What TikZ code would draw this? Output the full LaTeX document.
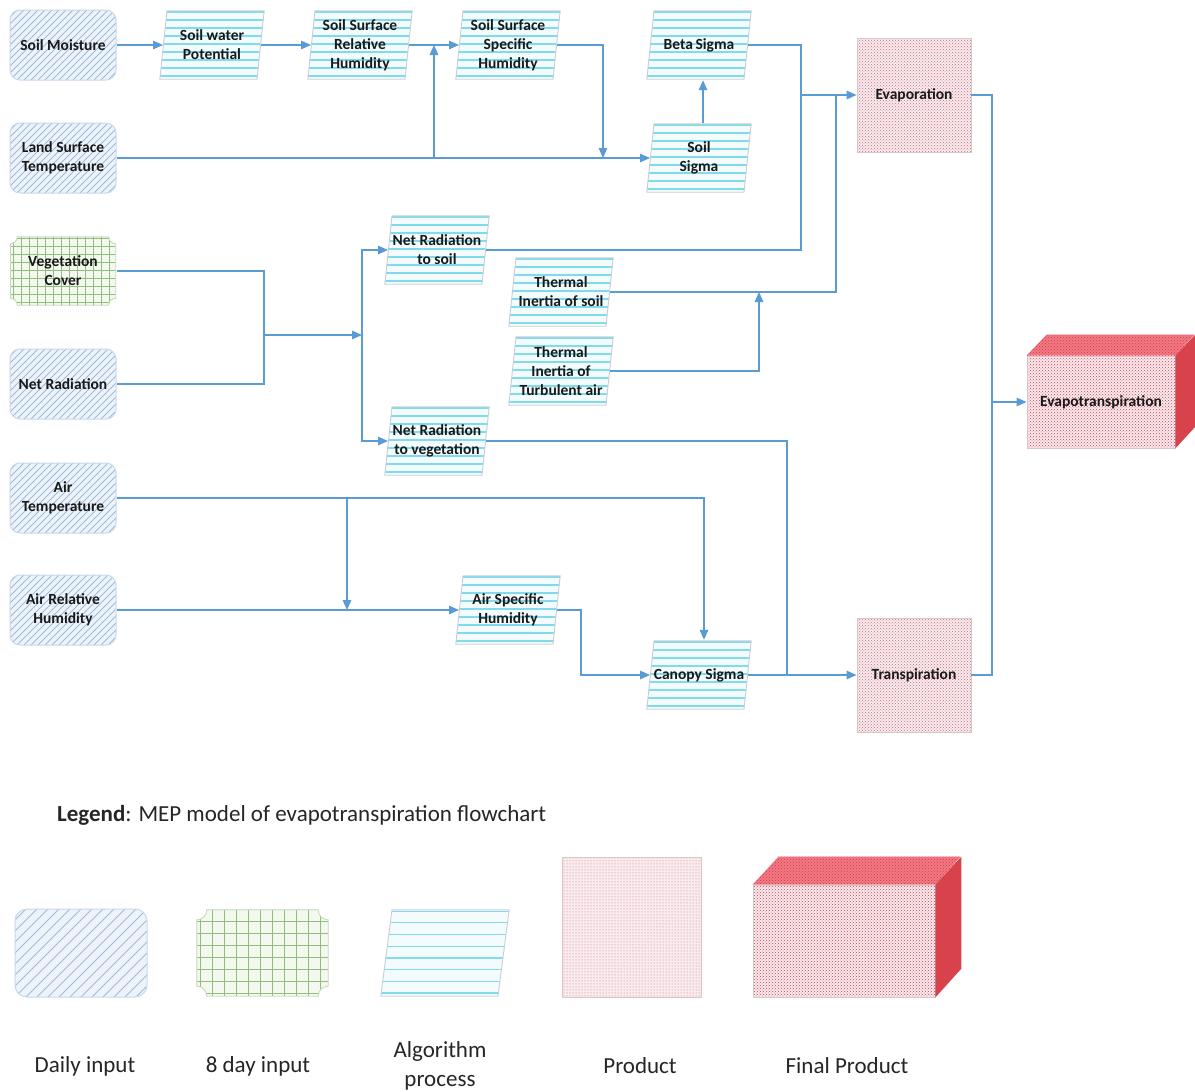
\documentclass[tikz,border=0pt]{standalone}
\usepackage{fontspec}
\setmainfont{Carlito}
\usetikzlibrary{arrows.meta,patterns,calc}
\definecolor{arrowc}{HTML}{5B9BD5}
\definecolor{hatchbg}{HTML}{EEF3FA}
\definecolor{hatchline}{HTML}{9DBBE0}
\definecolor{dailyborder}{HTML}{C9D8EC}
\definecolor{gridbg}{HTML}{F3F9EF}
\definecolor{gridline}{HTML}{93BD80}
\definecolor{gridborder}{HTML}{C9D9C0}
\definecolor{algobg}{HTML}{F4FBFD}
\definecolor{algoline}{HTML}{80DCEA}
\definecolor{algoborder}{HTML}{C9CED6}
\definecolor{prodbg}{HTML}{FAEBEE}
\definecolor{proddot}{HTML}{C0707F}
\definecolor{prodborder}{HTML}{D9C6C9}
\definecolor{finaldot}{HTML}{C8404F}
\definecolor{topface}{HTML}{F27983}
\definecolor{topdot}{HTML}{D03A47}
\definecolor{sideface}{HTML}{D8424D}
\definecolor{legtext}{HTML}{262626}
\newcommand\notchpath[1]{([shift={(0.8+#1,-0.8)}]path picture bounding box.north west) -- ([shift={(-0.8-#1,-0.8)}]path picture bounding box.north east) arc[start angle=180,end angle=270,radius=#1] -- ([shift={(-0.8,0.8+#1)}]path picture bounding box.south east) arc[start angle=90,end angle=180,radius=#1] -- ([shift={(0.8+#1,0.8)}]path picture bounding box.south west) arc[start angle=0,end angle=90,radius=#1] -- ([shift={(0.8,-0.8-#1)}]path picture bounding box.north west) arc[start angle=270,end angle=360,radius=#1] -- cycle}
\newcommand\parapath[1]{([shift={(0.8,0.8)}]path picture bounding box.south west) -- ([shift={(-#1,0.8)}]path picture bounding box.south east) -- ([shift={(-0.8,-0.8)}]path picture bounding box.north east) -- ([shift={(#1,-0.8)}]path picture bounding box.north west) -- cycle}
\begin{document}
\begin{tikzpicture}[x=1pt,y=1pt,
  lbl/.style={font=\bfseries\fontsize{15.5}{19}\selectfont, align=center, inner sep=1pt, text=black!90},
  conn/.style={draw=arrowc, line width=1.4pt},
  arr/.style={conn, -{Triangle[length=10pt,width=8.5pt]}},
  hatch/.style={path picture={\foreach \k in {-30,...,30}{\draw[hatchline, line width=0.9pt] ([xshift=\k*#1]path picture bounding box.south west) -- ++(200,200);}}},
  daily/.style={lbl, rectangle, rounded corners=10pt, draw=dailyborder, line width=1pt, fill=hatchbg, minimum width=106pt, minimum height=70pt, hatch=7},
  eight/.style 2 args={lbl, rectangle, minimum width=107pt, minimum height=70pt,
    path picture={
      \fill[gridbg] \notchpath{#2};
      \begin{scope}
        \clip \notchpath{#2};
        \foreach \k in {0,...,20}{
          \draw[gridline, line width=0.9pt] ([xshift=\k*#1+4]path picture bounding box.south west) -- ++(0,300);
          \draw[gridline, line width=0.9pt] ([yshift=\k*#1+4]path picture bounding box.south west) -- ++(300,0);
        }
      \end{scope}
      \draw[gridborder, line width=0.9pt] \notchpath{#2};
    }},
  algoshape/.style 2 args={lbl, rectangle, minimum width=106pt, minimum height=70pt, outer xsep={-0.5*#2},
    path picture={
      \fill[algobg] \parapath{#2};
      \begin{scope}
        \clip \parapath{#2};
        \foreach \k in {0,...,14}{
          \draw[algoline, line width=1.2pt] ([yshift=\k*#1+4]path picture bounding box.south west) -- ++(300,0);
        }
      \end{scope}
      \draw[algoborder, line width=0.9pt] \parapath{#2};
    }},
  algo/.style={algoshape={8}{8}},
  product/.style={lbl, rectangle, draw=prodborder, line width=0.8pt, preaction={fill=prodbg}, pattern=crosshatch dots, pattern color=proddot, minimum width=114pt, minimum height=114pt},
  final/.style={lbl, rectangle, draw=prodborder, line width=0.8pt, preaction={fill=prodbg}, pattern=crosshatch dots, pattern color=finaldot, minimum width=148pt, minimum height=92pt},
  topf/.style={preaction={fill=topface}, pattern=crosshatch dots, pattern color=topdot},
  sidef/.style={fill=sideface},
  leg/.style={font=\fontsize{23}{29}\selectfont, text=legtext, align=center, inner sep=0pt}
]
\useasboundingbox (0,0) rectangle (1195,-1092);
\fill[white] (0,0) rectangle (1195,-1092);

% inputs
\node[daily] (SM) at (63,-45) {Soil Moisture};
\node[daily] (LST) at (63,-158) {Land Surface\\Temperature};
\node[eight={8}{7}] (VC) at (63,-271) {Vegetation\\Cover};
\node[daily] (NR) at (63,-384) {Net Radiation};
\node[daily] (AT) at (63,-498) {Air\\Temperature};
\node[daily] (ARH) at (63,-610) {Air Relative\\Humidity};

% algorithms
\node[algo] (SWP) at (212,-45) {Soil water\\Potential};
\node[algo] (SSRH) at (360,-45) {Soil Surface\\Relative\\Humidity};
\node[algo] (SSSH) at (508,-45) {Soil Surface\\Specific\\Humidity};
\node[algo] (BS) at (699,-45) {Beta\,Sigma};
\node[algo] (SS) at (699,-158) {Soil\\Sigma};
\node[algo] (NRS) at (437,-250) {Net Radiation\\to soil};
\node[algo] (TIS) at (561,-292) {Thermal\\Inertia of soil};
\node[algo] (TIT) at (561,-371) {Thermal\\Inertia of\\Turbulent air};
\node[algo] (NRV) at (437,-441) {Net Radiation\\to vegetation};
\node[algo] (ASH) at (508,-610) {Air Specific\\Humidity};
\node[algo] (CS) at (699,-675) {Canopy Sigma};

% products
\node[product] (EV) at (914,-95) {Evaporation};
\node[product] (TR) at (914,-675) {Transpiration};
\node[final] (ET) at (1101,-402) {Evapotranspiration};
\path[topf] (ET.north west) -- ++(20,21) -- ++(148,0) -- (ET.north east) -- cycle;
\path[sidef] (ET.north east) -- ++(20,21) -- ++(0,-92) -- (ET.south east) -- cycle;

% connectors
\draw[arr] (SM.east) -- (SWP.west);
\draw[arr] (SWP.east) -- (SSRH.west);
\draw[arr] (SSRH.east) -- (SSSH.west);
\draw[arr] (LST.east) -- (SS.west);
\coordinate (j1) at (434,-158);
\draw[arr] (j1) -- (j1 |- SSRH.east);
\coordinate (j2) at (603,-158);
\draw[arr] (SSSH.east) -| (j2);
\draw[arr] ([xshift=4]SS.north) -- ([xshift=4]BS.south);

\coordinate (b1) at (801,-250);
\coordinate (b2) at (801,-95);
\draw[conn] (BS.east) -| (b1) -- (NRS.east);
\draw[arr] (b2) -- (EV.west);
\coordinate (b3) at (836,-95);
\draw[conn] (TIS.east) -| (b3);
\coordinate (b4) at (759,-292);
\draw[arr] (TIT.east) -| (b4);

\coordinate (v1) at (264,-335);
\coordinate (v2) at (362,-335);
\draw[conn] (VC.east) -| (v1) |- (NR.east);
\draw[arr] (v1) -- (v2);
\draw[arr] (v2) |- (NRS.west);
\draw[arr] (v2) |- (NRV.west);

\coordinate (c1) at (787,-675);
\draw[conn] (NRV.east) -| (c1);
\draw[arr] (AT.east) -| ([xshift=5]CS.north);
\coordinate (a1) at (347,-498);
\draw[arr] (a1) -- (a1 |- ARH.east);
\draw[arr] (ARH.east) -- (ASH.west);
\draw[arr] (ASH.east) -- ++(24,0) |- (CS.west);
\draw[arr] (CS.east) -- (TR.west);
\coordinate (e1) at (992,-402);
\draw[conn] (EV.east) -| (e1);
\draw[conn] (TR.east) -| (e1);
\draw[arr] (e1) -- (ET.west);

% legend
\node[anchor=base west, font=\fontsize{23}{27}\selectfont, text=legtext, inner sep=0pt] (LT) at (57,-821) {\textbf{Legend}: MEP model of evapotranspiration flowchart};
\node[daily, minimum width=132pt, minimum height=88pt, rounded corners=12pt, hatch=11] (LD) at (81,-953) {};
\node[eight={12}{10}, minimum width=133pt, minimum height=88pt] (L8) at (262.5,-953) {};
\node[algoshape={11.7}{12}, minimum width=130pt, minimum height=88pt] (LA) at (445,-953) {};
\node[product, pattern=dots, minimum width=139pt, minimum height=140pt] (LP) at (631.5,-927) {};
\node[final, minimum width=182pt, minimum height=112pt] (LF) at (844,-941) {};
\path[topf] (LF.north west) -- ++(26,28) -- ++(182,0) -- (LF.north east) -- cycle;
\path[sidef] (LF.north east) -- ++(26,28) -- ++(0,-112) -- (LF.south east) -- cycle;

\node[leg] (LDl) at (85,-1066) {Daily input};
\node[leg] (L8l) at (258,-1066) {8 day input};
\node[leg] (LAl) at (440,-1066) {Algorithm\\process};
\node[leg] (LPl) at (640,-1066) {Product};
\node[leg] (LFl) at (847,-1066) {Final Product};
\end{tikzpicture}
\end{document}
